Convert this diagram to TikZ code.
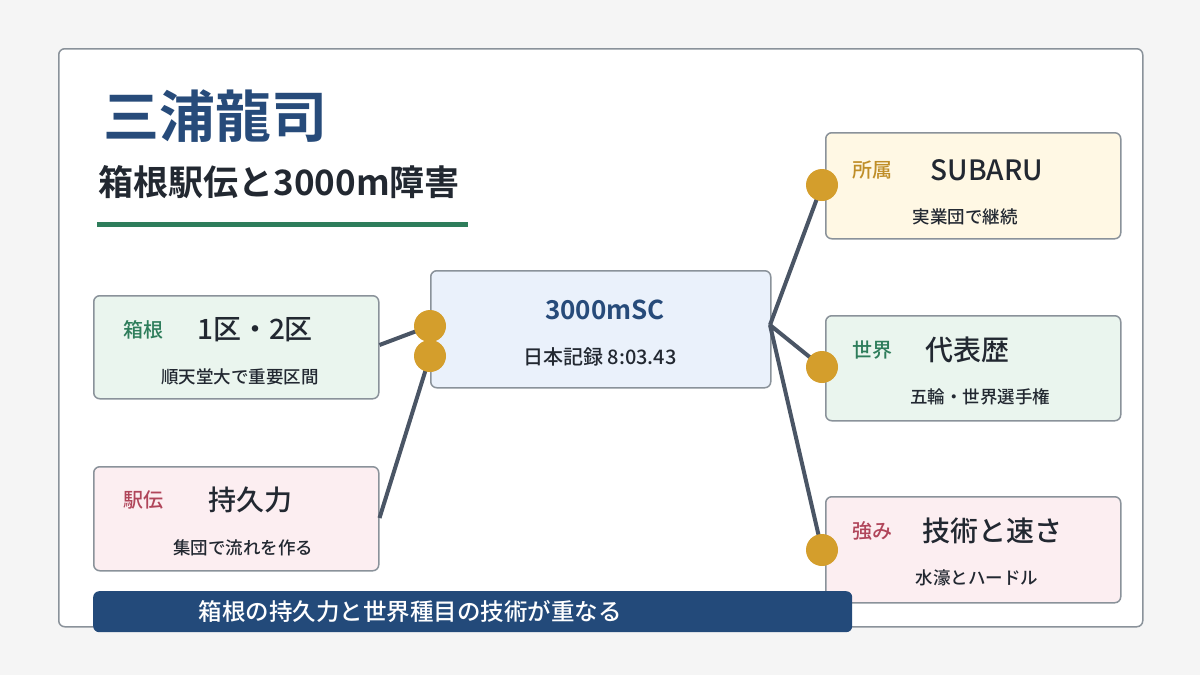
\documentclass[tikz,border=0pt]{standalone}
\usepackage{fontspec}
\setmainfont{Noto Sans CJK JP}[BoldFont={Noto Sans CJK JP Medium}]
\newfontfamily\heavy{Noto Sans CJK JP Bold}
\usepackage{tikz}
\usetikzlibrary{positioning}
\definecolor{navy}{HTML}{274B7A}
\definecolor{barblue}{HTML}{234A7A}
\definecolor{greenln}{HTML}{2E7D5B}
\definecolor{wire}{HTML}{4A5565}
\definecolor{gold}{HTML}{D49E2C}
\definecolor{frame}{HTML}{8A929A}
\definecolor{ink}{HTML}{222831}
\definecolor{mint}{HTML}{EAF5EE}
\definecolor{rose}{HTML}{FCEEF1}
\definecolor{sky}{HTML}{EAF1FB}
\definecolor{cream}{HTML}{FFF8E4}
\definecolor{wine}{HTML}{B0455A}
\newcommand{\fs}[1]{\fontsize{#1}{#1}\selectfont}
\begin{document}
\begin{tikzpicture}[x=1pt, y=-1pt, line join=round]
			\tikzstyle{card} = [draw=frame, line width=1.5pt, rounded corners=6pt, anchor=north west, inner sep=0pt]
			\tikzstyle{tag} = [font=\fs{20}\bfseries]
			\tikzstyle{head} = [font=\fs{28}\bfseries, text=ink]
			\tikzstyle{sub} = [font=\fs{17.5}\bfseries, text=ink]
			\tikzstyle{link} = [draw=wire, line width=4pt]
			\tikzstyle{dot} = [circle, fill=gold, minimum size=32pt, inner sep=0pt]
			% background and frame
			\fill[black!4] (0,0) rectangle (1200,675);
			\node[card, fill=white, minimum width=1084pt, minimum height=578pt] (frame) at (58,48) {};
			\node[anchor=west, text=navy, font=\fs{56}\heavy] (title) at (100,116) {三浦龍司};
			\node[anchor=west, text=ink, font=\fs{35}\heavy] (subtitle) at (95,182) {箱根駅伝と3000m障害};
			\draw[greenln, line width=5pt] (97,224) -- (468,224);
			% left column
			\node[card, fill=mint, minimum width=285pt, minimum height=103pt] (hakone) at (93,295) {};
			\node[tag, text=greenln] at (143,330) {箱根};
			\node[head] at (255,330) {1区・2区};
			\node[sub] at (240,377) {順天堂大で重要区間};
			\node[card, fill=rose, minimum width=285pt, minimum height=104pt] (ekiden) at (93,466) {};
			\node[tag, text=wine] at (143,500) {駅伝};
			\node[head] at (250,500) {持久力};
			\node[sub] at (243,548) {集団で流れを作る};
			% center
			\node[card, fill=sky, minimum width=340pt, minimum height=117pt] (center) at (430,270) {};
			\node[text=navy, font=\fs{26}\heavy] at (605,310) {3000mSC};
			\node[font=\fs{20}\bfseries, text=ink] at (600,357) {日本記録 8:03.43};
			% right column
			\node[card, fill=cream, minimum width=295pt, minimum height=106pt] (club) at (825,132) {};
			\node[tag, text=gold!90!black] at (872,170) {所属};
			\node[head] at (987,170) {SUBARU};
			\node[sub] at (965,217) {実業団で継続};
			\node[card, fill=mint, minimum width=295pt, minimum height=105pt] (world) at (825,315) {};
			\node[tag, text=greenln] at (872,350) {世界};
			\node[head] at (967,350) {代表歴};
			\node[sub] at (980,397) {五輪・世界選手権};
			\node[card, fill=rose, minimum width=295pt, minimum height=106pt] (power) at (825,496) {};
			\node[tag, text=wine] at (872,531) {強み};
			\node[head] at (992,531) {技術と速さ};
			\node[sub] at (977,578) {水濠とハードル};
			% connectors
			\coordinate (hub) at (770,325);
			\coordinate (d1) at (430,326);
			\coordinate (d2) at (430,356);
			\coordinate (d3) at (822,185);
			\coordinate (d4) at (822,367);
			\coordinate (d5) at (822,550);
			\path[link] (hakone.east |- 0,345) -- (d1) (ekiden.east |- 0,518) -- (d2)
			(hub) -- (d3) (hub) -- (d4) (hub) -- (d5);
			\foreach \d in {d1,d2,d3,d4,d5} \node[dot] at (\d) {};
			% bottom bar
			\node[fill=barblue, rounded corners=6pt, anchor=north west, minimum width=759pt, minimum height=41pt, inner sep=0pt] (bar) at (93,591) {};
			\node[text=white, font=\fs{23.5}\bfseries] at (410,612) {箱根の持久力と世界種目の技術が重なる};
\end{tikzpicture}
\end{document}
